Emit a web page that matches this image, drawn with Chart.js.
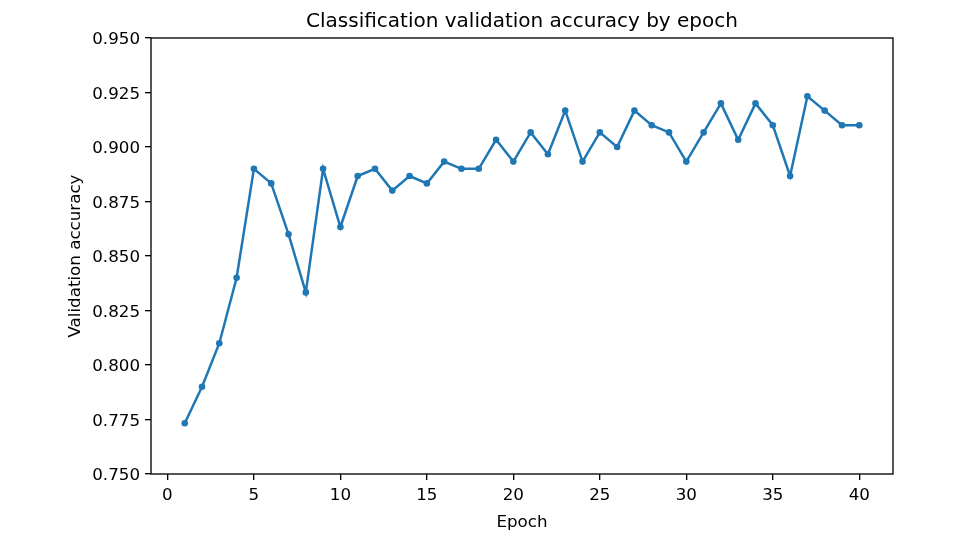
<!DOCTYPE html>
<html>
<head>
<meta charset="utf-8">
<script src="https://cdn.jsdelivr.net/npm/chart.js@4/dist/chart.umd.min.js"></script>
<style>
  html, body { margin: 0; padding: 0; background: #fff; }
  canvas { display: block; }
</style>
</head>
<body>
<canvas id="c" width="960" height="540"></canvas>
<script>
const epochs = [1,2,3,4,5,6,7,8,9,10,11,12,13,14,15,16,17,18,19,20,21,22,23,24,25,26,27,28,29,30,31,32,33,34,35,36,37,38,39,40];
const valAccuracy = [0.7733,0.79,0.81,0.84,0.89,0.8833,0.86,0.8333,0.89,0.8633,
                     0.8867,0.89,0.88,0.8867,0.8833,0.8933,0.89,0.89,0.9033,0.8933,
                     0.9067,0.8967,0.9167,0.8933,0.9067,0.90,0.9167,0.91,0.9067,0.8933,
                     0.9067,0.92,0.9033,0.92,0.91,0.8867,0.9233,0.9167,0.91,0.91];
const xTicks = [0,5,10,15,20,25,30,35,40];
const yTicks = [0.750,0.775,0.800,0.825,0.850,0.875,0.900,0.925,0.950];
const titleText = 'Classification validation accuracy by epoch';
const xLabel = 'Epoch';
const yLabel = 'Validation accuracy';

const FONT = 'DejaVu Sans';
const frame = {
  id: 'frame',
  afterDraw(chart) {
    const {ctx, chartArea: a} = chart;
    ctx.save();
    ctx.strokeStyle = '#000';
    ctx.lineWidth = 1.33;
    ctx.strokeRect(a.left, a.top, a.right - a.left, a.bottom - a.top);
    ctx.restore();
  }
};

new Chart(document.getElementById('c'), {
  type: 'line',
  data: {
    datasets: [{
      data: epochs.map((e, i) => ({x: e, y: valAccuracy[i]})),
      borderColor: '#1f77b4',
      backgroundColor: '#1f77b4',
      borderWidth: 2.5,
      pointRadius: 3.3,
      pointBorderWidth: 0,
      pointBackgroundColor: '#1f77b4',
      tension: 0,
      fill: false
    }]
  },
  options: {
    responsive: false,
    animation: false,
    devicePixelRatio: 1,
    layout: { padding: { top: 0, right: 67, bottom: 0, left: 0 } },
    plugins: {
      legend: { display: false },
      tooltip: { enabled: false },
      title: {
        display: true,
        fullSize: false,
        text: titleText,
        color: '#000',
        font: { family: FONT, size: 20, weight: 'normal' },
        padding: { top: 10, bottom: 4 }
      }
    },
    scales: {
      x: {
        type: 'linear',
        position: 'bottom',
        min: -0.95,
        max: 41.95,
        afterBuildTicks(s) { s.ticks = xTicks.map(v => ({value: v})); },
        afterFit(s) { s.height = 66; },
        ticks: {
          color: '#000',
          font: { family: FONT, size: 16.7 },
          padding: 6,
          maxRotation: 0,
          autoSkip: false,
          callback: v => String(v)
        },
        grid: { drawOnChartArea: false, drawTicks: true, tickLength: 6, color: '#000', lineWidth: 1.33 },
        border: { display: false },
        title: {
          display: true,
          text: xLabel,
          color: '#000',
          font: { family: FONT, size: 16.7 },
          padding: { top: 0, bottom: 7 }
        }
      },
      y: {
        type: 'linear',
        position: 'left',
        min: 0.75,
        max: 0.95,
        afterBuildTicks(s) { s.ticks = yTicks.map(v => ({value: v})); },
        afterFit(s) { s.width = 151; },
        ticks: {
          color: '#000',
          font: { family: FONT, size: 16.7 },
          padding: 5,
          labelOffset: 2,
          autoSkip: false,
          callback: v => Number(v).toFixed(3)
        },
        grid: { drawOnChartArea: false, drawTicks: true, tickLength: 6, color: '#000', lineWidth: 1.33 },
        border: { display: false },
        title: {
          display: true,
          text: yLabel,
          color: '#000',
          font: { family: FONT, size: 16.7 },
          padding: { top: 66, bottom: 0 }
        }
      }
    }
  },
  plugins: [frame]
});
</script>
</body>
</html>
